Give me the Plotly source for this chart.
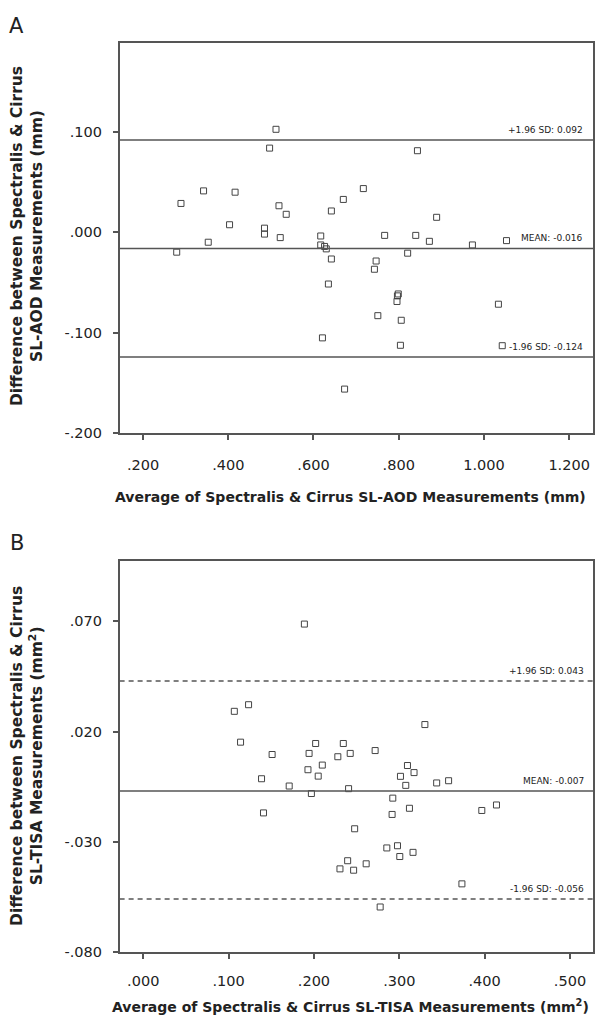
import plotly.graph_objects as go

# Panel A: SL-AOD (mm)
a_avg = [0.512, 0.497, 0.342, 0.416, 0.289, 0.519, 0.536, 0.642, 0.670, 0.403,
         0.485, 0.485, 0.522, 0.353, 0.279, 0.617, 0.617, 0.626, 0.630, 0.642,
         0.635, 0.844, 0.717, 0.889, 0.767, 0.840, 0.872, 0.973, 1.053, 0.821,
         0.747, 0.743, 0.799, 0.797, 0.796, 1.034, 0.751, 0.806, 0.621, 0.804,
         1.043, 0.673]
a_diff = [0.1026, 0.0839, 0.0413, 0.0400, 0.0288, 0.0265, 0.0180, 0.0213, 0.0328, 0.0076,
          0.0042, -0.0017, -0.0052, -0.0098, -0.0197, -0.0036, -0.0125, -0.0140, -0.0164, -0.0265,
          -0.0514, 0.0813, 0.0436, 0.0150, -0.0030, -0.0030, -0.0089, -0.0125, -0.0082, -0.0207,
          -0.0285, -0.0367, -0.0613, -0.0632, -0.0688, -0.0715, -0.0829, -0.0875, -0.1050, -0.1124,
          -0.1128, -0.1560]
a_mean = -0.016
a_upper = 0.092
a_lower = -0.124
a_xticks = [0.2, 0.4, 0.6, 0.8, 1.0, 1.2]
a_xticktext = [".200", ".400", ".600", ".800", "1.000", "1.200"]
a_yticks = [0.1, 0.0, -0.1, -0.2]
a_yticktext = [".100", ".000", "-.100", "-.200"]

# Panel B: SL-TISA (mm^2)
b_avg = [0.1888, 0.1067, 0.1234, 0.1140, 0.1510, 0.1386, 0.1710, 0.1943, 0.2020, 0.1930,
         0.2098, 0.2050, 0.2344, 0.2425, 0.2280, 0.2406, 0.1970, 0.2717, 0.3300, 0.3096,
         0.3173, 0.3014, 0.3076, 0.3438, 0.3578, 0.1409, 0.2924, 0.2916, 0.3119, 0.3967,
         0.4139, 0.2477, 0.2854, 0.2979, 0.3006, 0.3161, 0.2395, 0.2305, 0.2465, 0.2612,
         0.3734, 0.2776]
b_diff = [0.0688, 0.0292, 0.0322, 0.0152, 0.0096, -0.0014, -0.0047, 0.0101, 0.0146, 0.0027,
          0.0048, -0.0002, 0.0146, 0.0101, 0.0086, -0.0059, -0.0081, 0.0114, 0.0232, 0.0046,
          0.0014, -0.0003, -0.0044, -0.0033, -0.0023, -0.0169, -0.0102, -0.0176, -0.0148, -0.0158,
          -0.0133, -0.0241, -0.0328, -0.0318, -0.0367, -0.0348, -0.0386, -0.0423, -0.0429, -0.0400,
          -0.0491, -0.0596]
b_mean = -0.007
b_upper = 0.043
b_lower = -0.056
b_xticks = [0.0, 0.1, 0.2, 0.3, 0.4, 0.5]
b_xticktext = [".000", ".100", ".200", ".300", ".400", ".500"]
b_yticks = [0.07, 0.02, -0.03, -0.08]
b_yticktext = [".070", ".020", "-.030", "-.080"]

VW, VH = 603, 1023          # browser window
OFF = 8                     # default page body margin
W, H = VW - 2 * OFF, VH - 2 * OFF
FONT = "DejaVu Sans"
INK = "#222222"
LINE = "#555555"


def fx(px):
    return (px - OFF) / W


def fy(py):
    return 1 - (py - OFF) / H


fig = go.Figure()

marker = dict(symbol="square-open", size=6, color="#444444", line=dict(width=1, color="#444444"))
fig.add_trace(go.Scatter(x=a_avg, y=a_diff, mode="markers", marker=marker,
                         xaxis="x", yaxis="y", showlegend=False, hoverinfo="x+y"))
fig.add_trace(go.Scatter(x=b_avg, y=b_diff, mode="markers", marker=marker,
                         xaxis="x2", yaxis="y2", showlegend=False, hoverinfo="x+y"))

xdom = [fx(120), fx(595)]
ydomA = [fy(436.7), fy(43.3)]
ydomB = [fy(959.5), fy(565.7)]

axis_common = dict(showline=True, mirror=True, linecolor=LINE, linewidth=1.5,
                   showgrid=False, zeroline=False, ticks="outside", ticklen=5,
                   tickwidth=1.5, tickcolor=LINE,
                   tickfont=dict(family=FONT, size=14.5, color=INK))

fig.update_layout(
    width=W, height=H,
    margin=dict(l=0, r=0, t=0, b=0),
    paper_bgcolor="white", plot_bgcolor="white",
    xaxis=dict(domain=xdom, range=[0.145, 1.256], tickvals=a_xticks, ticktext=a_xticktext,
               anchor="y", ticklabelstandoff=13, **axis_common),
    yaxis=dict(domain=ydomA, range=[-0.2, 0.1885], tickvals=a_yticks, ticktext=a_yticktext,
               anchor="x", ticklabelstandoff=8, **axis_common),
    xaxis2=dict(domain=xdom, range=[-0.0277, 0.527], tickvals=b_xticks, ticktext=b_xticktext,
                anchor="y2", ticklabelstandoff=10, **axis_common),
    yaxis2=dict(domain=ydomB, range=[-0.08, 0.0973], tickvals=b_yticks, ticktext=b_yticktext,
                anchor="x2", ticklabelstandoff=8, **axis_common),
)


def hline(y, xref, yref, dash):
    fig.add_shape(type="line", xref=xref + " domain", yref=yref, x0=0, x1=1, y0=y, y1=y,
                  line=dict(color=LINE, width=1.5, dash=dash))


hline(a_upper, "x", "y", "solid")
hline(a_mean, "x", "y", "solid")
hline(a_lower, "x", "y", "solid")
hline(b_upper, "x2", "y2", "5px,4px")
hline(b_mean, "x2", "y2", "solid")
hline(b_lower, "x2", "y2", "5px,4px")

small = dict(family=FONT, size=9, color=INK)


def label(text, y, xref, yref, xr):
    fig.add_annotation(text=text, xref=xref + " domain", yref=yref, x=xr, y=y,
                       xanchor="right", yanchor="bottom", yshift=3, showarrow=False, font=small)


label("+1.96 SD: %.3f" % a_upper, a_upper, "x", "y", 0.983)
label("MEAN: %.3f" % a_mean, a_mean, "x", "y", 0.983)
label("-1.96 SD: %.3f" % a_lower, a_lower, "x", "y", 0.983)
label("+1.96 SD: %.3f" % b_upper, b_upper, "x2", "y2", 0.985)
label("MEAN: %.3f" % b_mean, b_mean, "x2", "y2", 0.985)
label("-1.96 SD: %.3f" % b_lower, b_lower, "x2", "y2", 0.985)

for letter, ypx in [("A", 26), ("B", 547)]:
    fig.add_annotation(text=letter, xref="paper", yref="paper", x=fx(17), y=fy(ypx),
                       xanchor="center", yanchor="middle", showarrow=False,
                       font=dict(family=FONT, size=21, color=INK))

xt_font = dict(family=FONT, size=14, color=INK)
yt_font = dict(family=FONT, size=15.5, color=INK)
fig.add_annotation(text="<b>Average of Spectralis & Cirrus SL-AOD Measurements (mm)</b>",
                   xref="paper", yref="paper", x=fx(352), y=fy(501),
                   xanchor="center", yanchor="middle", showarrow=False, font=xt_font)
fig.add_annotation(text="<b>Average of Spectralis & Cirrus SL-TISA Measurements (mm<sup>2</sup>)</b>",
                   xref="paper", yref="paper", x=fx(352), y=fy(1014),
                   xanchor="center", yanchor="middle", showarrow=False, font=xt_font)
fig.add_annotation(text="<b>Difference between Spectralis & Cirrus<br>SL-AOD Measurements (mm)</b>",
                   xref="paper", yref="paper", x=fx(27), y=fy(238), textangle=-90,
                   xanchor="center", yanchor="middle", showarrow=False, font=yt_font)
fig.add_annotation(text="<b>Difference between Spectralis & Cirrus<br>SL-TISA Measurements (mm<sup>2</sup>)</b>",
                   xref="paper", yref="paper", x=fx(27), y=fy(762), textangle=-90,
                   xanchor="center", yanchor="middle", showarrow=False, font=yt_font)

fig.write_html("out.html")
